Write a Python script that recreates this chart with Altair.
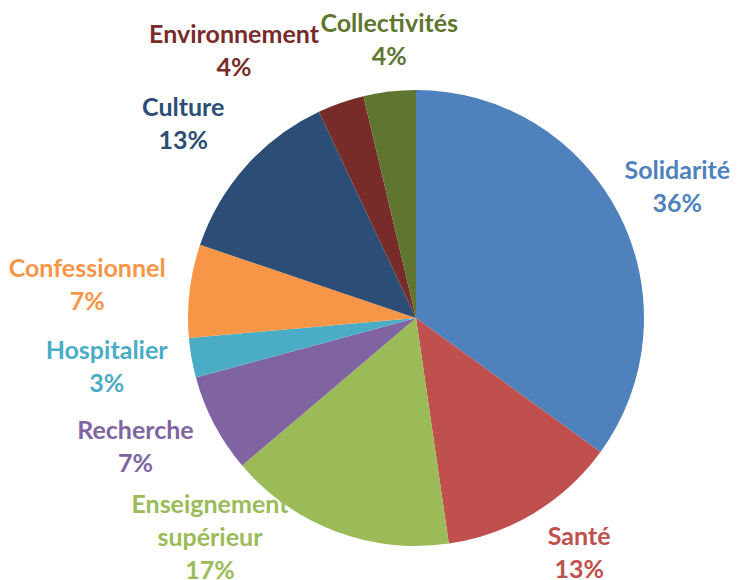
import math
import altair as alt
import pandas as pd

categories = ["Solidarité", "Santé", "Enseignement supérieur", "Recherche", "Hospitalier",
              "Confessionnel", "Culture", "Environnement", "Collectivités"]
shares = [35.0, 12.7, 16.1, 7.0, 2.8, 6.6, 12.8, 3.3, 3.7]
pct_labels = ["36%", "13%", "17%", "7%", "3%", "7%", "13%", "4%", "4%"]
label_lines = ["Solidarité", "Santé", "Enseignement\nsupérieur", "Recherche", "Hospitalier",
               "Confessionnel", "Culture", "Environnement", "Collectivités"]
colors = ["#4F81BD", "#C0504D", "#9BBB59", "#8064A2", "#4BACC6",
          "#F79646", "#2C4D75", "#772C2A", "#5F7530"]

# label nudges (styling, px) relative to the radial anchor
nudges = {"Solidarité": (-6, -11), "Santé": (8, -38), "Enseignement supérieur": (-100, -94),
          "Recherche": (-15, -27), "Hospitalier": (-14, -20), "Confessionnel": (-31, -13),
          "Culture": (-9, -10), "Environnement": (-83, 0), "Collectivités": (8, 4)}

df = pd.DataFrame({
    "cat": categories,
    "value": shares,
    "idx": list(range(len(categories))),
    "label": [f"{a}\n{b}" for a, b in zip(label_lines, pct_labels)],
})

CX, CY, R, LR = 408, 310, 228, 300

color_scale = alt.Scale(domain=categories, range=colors)

base = alt.Chart(df)

arcs = base.mark_arc(outerRadius=R).encode(
    theta=alt.Theta("value:Q", stack=True),
    order=alt.Order("idx:Q"),
    color=alt.Color("cat:N", scale=color_scale, legend=None),
    x=alt.value(CX),
    y=alt.value(CY),
)

text_base = base.transform_joinaggregate(
    total="sum(value)"
).transform_window(
    cum="sum(value)", sort=[alt.SortField("idx")], frame=[None, 0]
).transform_calculate(
    ang="(datum.cum - datum.value/2) / datum.total * 2 * PI",
).transform_calculate(
    lx=f"{CX} + {LR} * sin(datum.ang)",
    ly=f"{CY} - {LR} * cos(datum.ang)",
)

layers = [arcs]
for c in categories:
    dx, dy = nudges[c]
    layers.append(
        text_base.transform_filter(alt.datum.cat == c).mark_text(
            font="Lato", fontWeight="bold", fontSize=25, lineBreak="\n",
            lineHeight=33, align="center", baseline="middle", dx=dx, dy=dy,
        ).encode(
            x=alt.X("lx:Q", scale=None),
            y=alt.Y("ly:Q", scale=None),
            text="label:N",
            color=alt.Color("cat:N", scale=color_scale, legend=None),
        )
    )

chart = alt.layer(*layers).properties(
    width=732, height=572, autosize=alt.AutoSizeParams(type="none"), padding=0
).configure_view(stroke=None)

chart.save("out.html", embed_options={"renderer": "svg", "actions": False})
